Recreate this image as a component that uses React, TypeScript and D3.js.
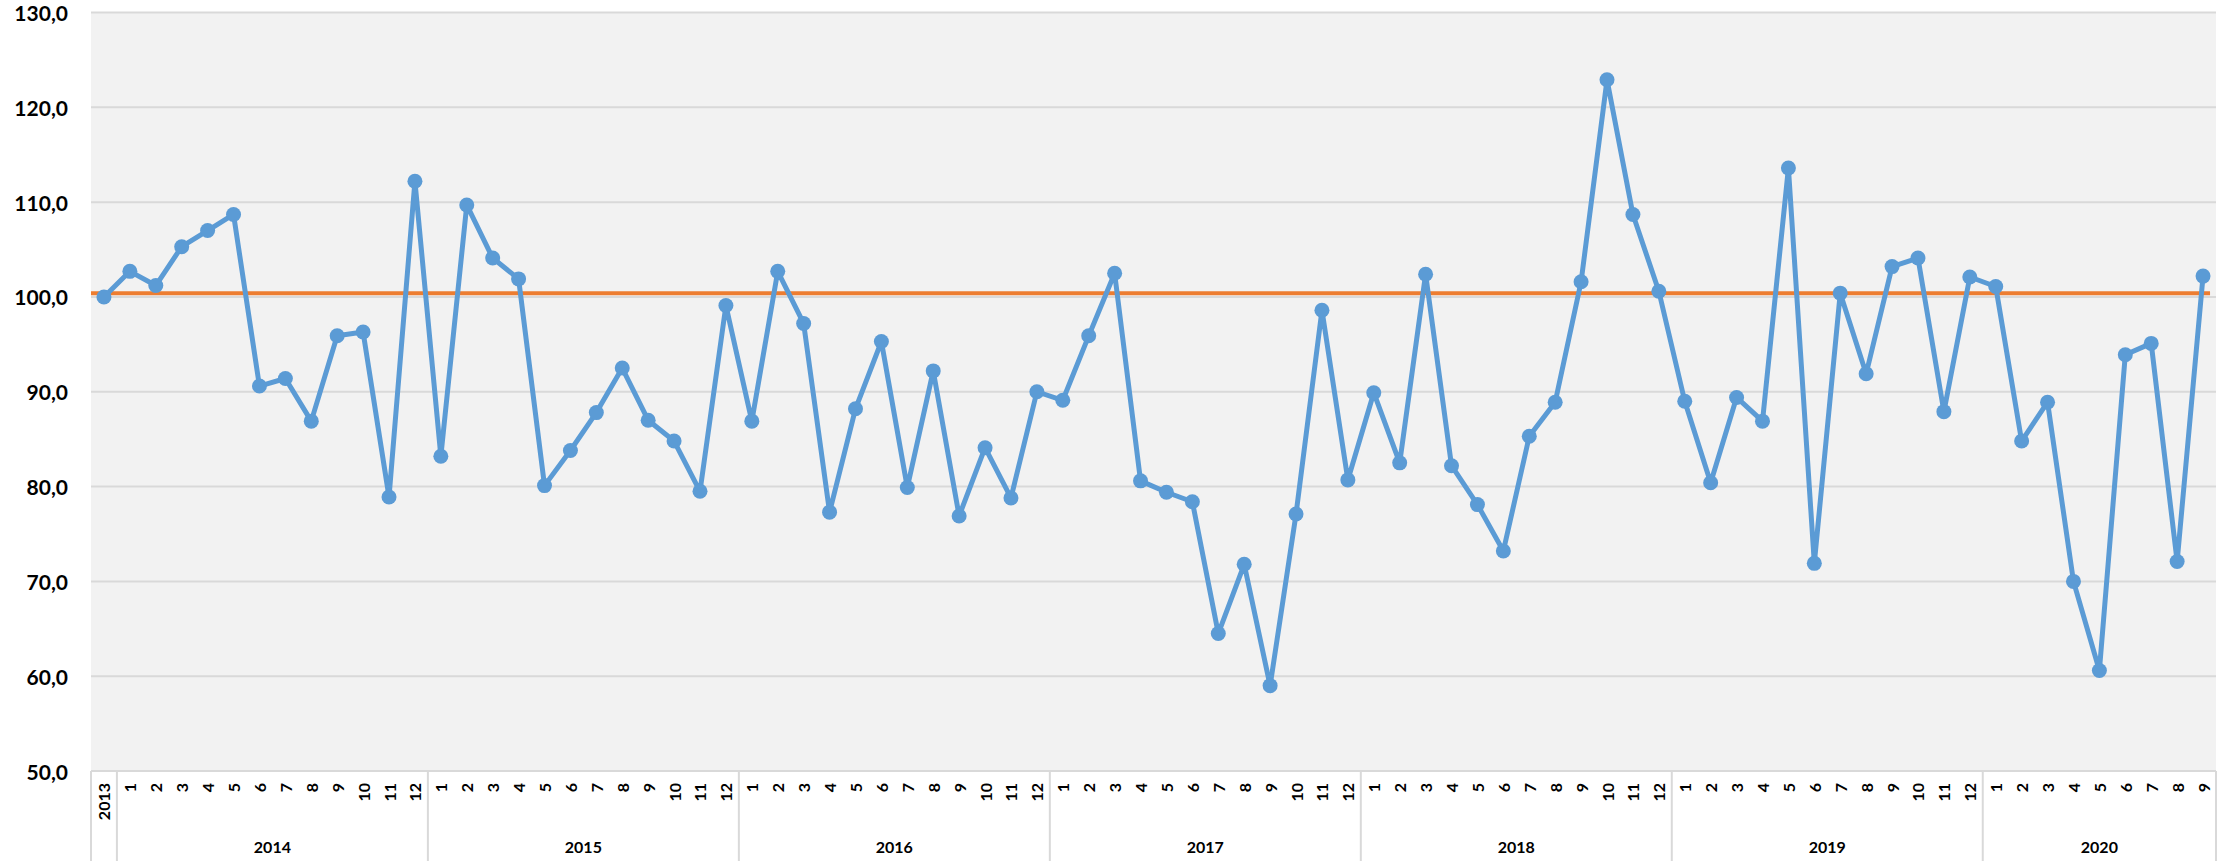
import React from 'react';
import * as d3 from 'd3';

// monthly index values
const v2013 = [100.0];
const v2014 = [102.7, 101.2, 105.3, 107.0, 108.7, 90.6, 91.4, 86.9, 95.9, 96.3, 78.9, 112.2];
const v2015 = [83.2, 109.7, 104.1, 101.9, 80.1, 83.8, 87.8, 92.5, 87.0, 84.8, 79.5, 99.1];
const v2016 = [86.9, 102.7, 97.2, 77.3, 88.2, 95.3, 79.9, 92.2, 76.9, 84.1, 78.8, 90.0];
const v2017 = [89.1, 95.9, 102.5, 80.6, 79.4, 78.4, 64.5, 71.8, 59.0, 77.1, 98.6, 80.7];
const v2018 = [89.9, 82.5, 102.4, 82.2, 78.1, 73.2, 85.3, 88.9, 101.6, 122.9, 108.7, 100.6];
const v2019 = [89.0, 80.4, 89.4, 86.9, 113.6, 71.9, 100.4, 91.9, 103.2, 104.1, 87.9, 102.1];
const v2020 = [101.1, 84.8, 88.9, 70.0, 60.6, 93.9, 95.1, 72.1, 102.2];

const yearLabels = ['2014', '2015', '2016', '2017', '2018', '2019', '2020'];
const monthLabels = ['1', '2', '3', '4', '5', '6', '7', '8', '9', '10', '11', '12'];
const baseValue = 100.4;
const yTicks = [50, 60, 70, 80, 90, 100, 110, 120, 130];

const W = 2229;
const H = 861;
const left = 91;
const right = 2216;
const top = 12.5;
const bottom = 771;
const font = 'Lato, "Open Sans", sans-serif';
const blue = '#5B9BD5';
const orange = '#ED7D31';
const gridColor = '#d9d9d9';

// groups: first one is the lone 2013 point, labelled in the month row
const groups = [
  { year: '', ticks: ['2013'], values: v2013 },
  ...[v2014, v2015, v2016, v2017, v2018, v2019, v2020].map((vals, i) => ({
    year: yearLabels[i],
    ticks: monthLabels.slice(0, vals.length),
    values: vals,
  })),
];

const points = [];
groups.forEach((g, gi) => {
  g.values.forEach((v, mi) => {
    points.push({ key: `${gi}-${mi}`, label: g.ticks[mi], value: v, group: gi });
  });
});

const App = () => {
  const x = d3.scaleBand().domain(points.map(p => p.key)).range([left, right]).padding(0);
  const y = d3.scaleLinear().domain([50, 130]).range([bottom, top]);
  const cx = key => x(key) + x.bandwidth() / 2;
  const fmt = v => d3.format('.1f')(v).replace('.', ',');

  const line = d3.line()
    .x(p => cx(p.key))
    .y(p => y(p.value));

  // group separators for the category axis
  const bounds = [];
  let idx = 0;
  groups.forEach(g => {
    const first = points[idx].key;
    const last = points[idx + g.values.length - 1].key;
    bounds.push({ year: g.year, x0: x(first), x1: x(last) + x.bandwidth() });
    idx += g.values.length;
  });

  const lastX = cx(points[points.length - 1].key);

  return (
    <svg width={W} height={H} style={{ display: 'block', background: '#fff' }}>
      <style>{'body{margin:0}'}</style>
      <rect x={left} y={top} width={right - left} height={bottom - top} fill="#f2f2f2" />
      {yTicks.map(t => (
        <g key={t}>
          <line x1={left} x2={right} y1={y(t)} y2={y(t)} stroke={gridColor} strokeWidth={2} />
          <text
            x={68}
            y={y(t)}
            textAnchor="end"
            dominantBaseline="central"
            fontFamily={font}
            fontWeight="bold"
            fontSize={21}
            fill="#000"
          >
            {fmt(t)}
          </text>
        </g>
      ))}

      {/* category axis table */}
      {bounds.map((b, i) => (
        <g key={i}>
          <line x1={b.x0} x2={b.x0} y1={bottom} y2={H} stroke={gridColor} strokeWidth={2} />
          {i === bounds.length - 1 && (
            <line x1={b.x1} x2={b.x1} y1={bottom} y2={H} stroke={gridColor} strokeWidth={2} />
          )}
          <text
            x={(b.x0 + b.x1) / 2}
            y={853}
            textAnchor="middle"
            fontFamily={font}
            fontWeight="bold"
            fontSize={16}
            fill="#000"
          >
            {b.year}
          </text>
        </g>
      ))}
      {points.map(p => (
        <text
          key={p.key}
          transform={`translate(${cx(p.key)},783) rotate(-90)`}
          textAnchor="end"
          dominantBaseline="central"
          fontFamily={font}
          fontWeight="bold"
          fontSize={16}
          fill="#000"
        >
          {p.label}
        </text>
      ))}

      <line x1={left} x2={lastX + 7} y1={y(baseValue)} y2={y(baseValue)} stroke={orange} strokeWidth={4} />

      <path d={line(points)} fill="none" stroke={blue} strokeWidth={5} strokeLinejoin="round" />
      {points.map(p => (
        <circle key={p.key} cx={cx(p.key)} cy={y(p.value)} r={7.5} fill={blue} />
      ))}
    </svg>
  );
};

export default App;
